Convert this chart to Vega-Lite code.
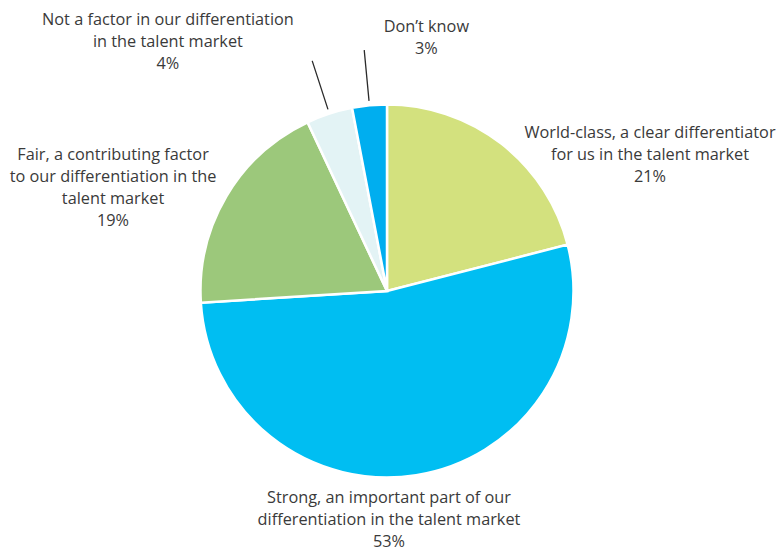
{
  "$schema": "https://vega.github.io/schema/vega-lite/v6.json",
  "width": 774,
  "height": 522,
  "autosize": {"type": "none"},
  "padding": {"left": 0, "right": 3, "top": 30, "bottom": 0},
  "background": "white",
  "config": {"view": {"stroke": null}, "text": {"font": "Open Sans", "fontSize": 16.3, "color": "#3a3a3a", "lineHeight": 22, "lineBreak": "\n", "align": "center", "baseline": "middle"}},
  "data": {"values": [
    {"idx": 1, "cat": "World-class", "value": 21, "label": "World-class, a clear differentiator\nfor us in the talent market\n21%"},
    {"idx": 2, "cat": "Strong", "value": 53, "label": "Strong, an important part of our\ndifferentiation in the talent market\n53%"},
    {"idx": 3, "cat": "Fair", "value": 19, "label": "Fair, a contributing factor\nto our differentiation in the\ntalent market\n19%"},
    {"idx": 4, "cat": "Not a factor", "value": 4, "label": "Not a factor in our differentiation\nin the talent market\n4%"},
    {"idx": 5, "cat": "Don’t know", "value": 3, "label": "Don’t know\n3%"}
  ]},
  "encoding": {
    "theta": {"field": "value", "type": "quantitative", "stack": true},
    "order": {"field": "idx", "type": "quantitative", "sort": "ascending"}
  },
  "layer": [
    {
      "mark": {"type": "arc", "outerRadius": 186.5, "stroke": "white", "strokeWidth": 2.5},
      "encoding": {
        "color": {"field": "cat", "type": "nominal", "legend": null,
          "scale": {"domain": ["World-class", "Strong", "Fair", "Not a factor", "Don’t know"],
                    "range": ["#d3e17e", "#00bef2", "#9cc87b", "#e3f3f5", "#00aeef"]}}
      }
    },
    {
      "mark": {"type": "arc", "innerRadius": 191, "outerRadius": 242, "padAngle": 1.2, "fillOpacity": 0, "stroke": "#2b2b2b", "strokeWidth": 1.3},
      "encoding": {
        "strokeOpacity": {"condition": {"test": "datum.idx >= 4", "value": 1}, "value": 0}
      }
    },
    {
      "mark": {"type": "text", "radius": 230, "dx": 122, "dy": 24},
      "encoding": {"text": {"condition": {"test": "datum.idx == 1", "field": "label"}, "value": ""}}
    },
    {
      "mark": {"type": "text", "radius": 230, "dx": -34, "dy": -20},
      "encoding": {"text": {"condition": {"test": "datum.idx == 2", "field": "label"}, "value": ""}}
    },
    {
      "mark": {"type": "text", "radius": 230, "dx": -76, "dy": -19},
      "encoding": {"text": {"condition": {"test": "datum.idx == 3", "field": "label"}, "value": ""}}
    },
    {
      "mark": {"type": "text", "radius": 230, "dx": -148, "dy": -52},
      "encoding": {"text": {"condition": {"test": "datum.idx == 4", "field": "label"}, "value": ""}}
    },
    {
      "mark": {"type": "text", "radius": 230, "dx": 61, "dy": -35},
      "encoding": {"text": {"condition": {"test": "datum.idx == 5", "field": "label"}, "value": ""}}
    }
  ]
}
